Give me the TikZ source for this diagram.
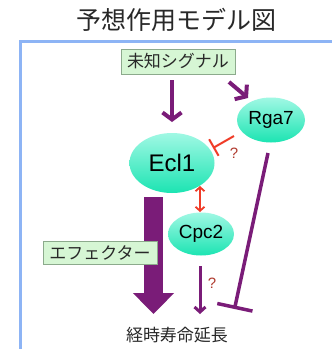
\documentclass[tikz,border=0pt]{standalone}
\usepackage{fontspec}
\setmainfont{Liberation Sans}
\newfontfamily\cjk{Noto Sans CJK JP}
\usetikzlibrary{arrows.meta,shapes.geometric}
\definecolor{framblue}{RGB}{141,180,245}
\definecolor{purp}{RGB}{122,28,120}
\definecolor{boxgreen}{RGB}{214,246,212}
\definecolor{boxedge}{RGB}{140,170,140}
\definecolor{tealtop}{RGB}{160,248,228}
\definecolor{tealbot}{RGB}{28,228,178}
\definecolor{redl}{RGB}{240,60,40}
\definecolor{qred}{RGB}{176,58,46}
\definecolor{txt}{RGB}{40,40,40}
\tikzset{
  protein/.style={ellipse, top color=tealtop, bottom color=tealbot, draw=none, inner sep=0pt, text=black},
  labelbox/.style={draw=boxedge, line width=0.8pt, fill=boxgreen, inner sep=0pt, text=txt, font=\cjk\fontsize{17}{17}\selectfont},
  parrow/.style={draw=purp, line width=4pt, -{Straight Barb[length=7pt,width=19pt]}},
  qmark/.style={text=qred, font=\fontsize{15}{15}\selectfont}
}
\begin{document}
\begin{tikzpicture}[x=1pt,y=-1pt]
\useasboundingbox (0,0) rectangle (332,349);
\fill[white] (0,0) rectangle (332,349);
% frame
\draw[framblue, line width=3.5pt] (20.5,360) -- (20.5,41.5) -- (340,41.5);
% title
\node[text=txt, font=\cjk\fontsize{25}{25}\selectfont] (title) at (177,20) {予想作用モデル図};
% boxes
\node[labelbox, minimum width=114pt, minimum height=25pt] (signal) at (178,61.5) {未知シグナル};
% proteins
\node[protein, minimum width=85pt, minimum height=60pt, font=\fontsize{24}{24}\selectfont] (ecl) at (172,163) {Ecl1};
\node[protein, minimum width=68pt, minimum height=45pt, font=\fontsize{19}{19}\selectfont] (rga) at (271,120) {Rga7};
\node[protein, minimum width=66pt, minimum height=43pt, font=\fontsize{19}{19}\selectfont] (cpc) at (201,234) {Cpc2};
% bottom text
\node[text=txt, font=\cjk\fontsize{17}{17}\selectfont] (life) at (177,335) {経時寿命延長};
% coordinates
\coordinate (sigA) at (172,80);
\coordinate (sigB) at (172,122);
\coordinate (sigC) at (229,82);
\coordinate (sigD) at (248,98);
\coordinate (effTop) at (153.5,197);
\coordinate (effTip) at (153.5,314);
\coordinate (cpcA) at (200,266);
\coordinate (cpcB) at (200,314);
\coordinate (rgaA) at (268,153);
\coordinate (rgaB) at (234.5,309);
\coordinate (inhA) at (234,136);
\coordinate (inhB) at (213,148);
\coordinate (dblA) at (200,186);
\coordinate (dblB) at (200,212);
% big effector arrow
\draw[purp, line width=19pt, -{Triangle[length=21pt,width=40pt]}] (effTop) -- (effTip);
\node[labelbox, minimum width=114pt, minimum height=23pt] (eff) at (100,252.5) {エフェクター};
% arrows
\draw[parrow] (sigA) -- (sigB);
\draw[parrow] (sigC) -- (sigD);
\draw[draw=purp, line width=3pt, -{Straight Barb[length=5pt,width=11pt]}] (cpcA) -- (cpcB);
\draw[draw=purp, line width=3.5pt, -{Bar[width=36pt]}] (rgaA) -- (rgaB);
\draw[draw=redl, line width=2pt, -{Bar[width=19pt]}] (inhA) -- (inhB);
\draw[draw=redl, line width=1.8pt, {Straight Barb[length=4pt,width=9pt]}-{Straight Barb[length=4pt,width=9pt]}] (dblA) -- (dblB);
% question marks
\node[qmark] (q1) at (234,153) {?};
\node[qmark] (q2) at (212,283) {?};
\end{tikzpicture}
\end{document}
